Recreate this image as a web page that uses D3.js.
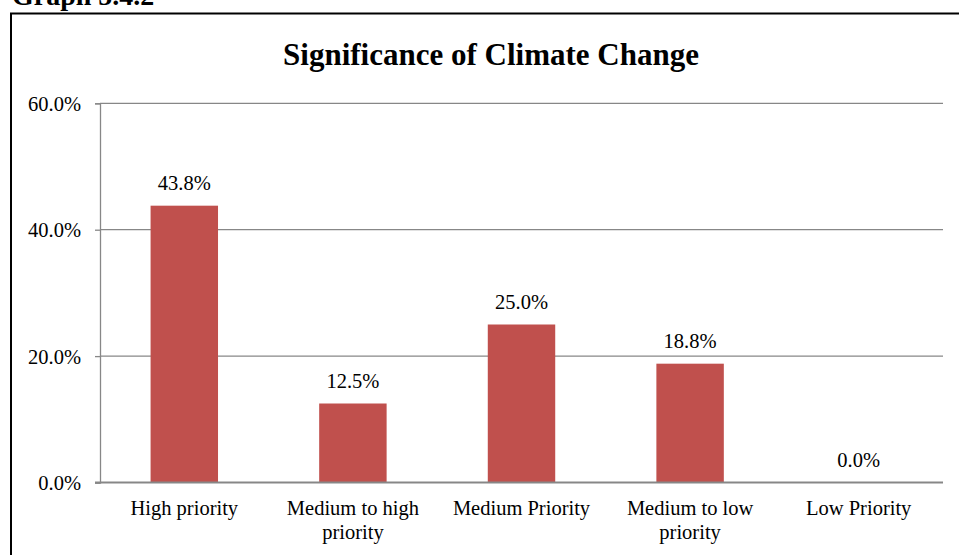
<!DOCTYPE html>
<html>
<head>
<meta charset="utf-8">
<script src="https://cdn.jsdelivr.net/npm/d3@7"></script>
<style>
html,body{margin:0;padding:0;background:#fff;}
svg{display:block;}
text{font-family:"Liberation Serif","Times New Roman",serif;fill:#000;}
</style>
</head>
<body>
<svg id="chart" width="959" height="555"></svg>
<script>
const categories = [["High priority"], ["Medium to high", "priority"], ["Medium Priority"], ["Medium to low", "priority"], ["Low Priority"]];
const values = [43.8, 12.5, 25.0, 18.8, 0.0];
const tickValues = [0, 20, 40, 60];
const title = "Significance of Climate Change";
const caption = "Graph 5.4.2";

const svg = d3.select("#chart");
const W = 959, H = 555;
const margin = {left: 100, right: 16, top: 103.3, bottom: 72};
const plotW = W - margin.left - margin.right;
const y0 = 482.5;

// caption (cut off at top)
svg.append("text").attr("x", 12).attr("y", 5)
  .style("font-size", "28px").style("font-weight", "bold").text(caption);

// frame
svg.append("rect").attr("x", 11).attr("y", 13.5).attr("width", 1000).attr("height", 1000)
  .attr("fill", "none").attr("stroke", "#000").attr("stroke-width", 2);

// title
svg.append("text").attr("x", 491).attr("y", 65).attr("text-anchor", "middle")
  .style("font-size", "31px").style("font-weight", "bold").text(title);

const x = d3.scaleBand().domain(d3.range(values.length))
  .range([margin.left, margin.left + plotW]).paddingInner(0.6).paddingOuter(0.3);
const y = d3.scaleLinear().domain([0, 60]).range([y0, margin.top]);

// gridlines
svg.append("g").selectAll("line").data(tickValues.filter(d => d > 0)).join("line")
  .attr("x1", margin.left).attr("x2", margin.left + plotW)
  .attr("y1", d => y(d)).attr("y2", d => y(d))
  .attr("stroke", "#878787").attr("stroke-width", 1.3);

// y axis
const yAxis = d3.axisLeft(y).tickValues(tickValues).tickSize(5).tickPadding(14)
  .tickFormat(d => d3.format(".1f")(d) + "%");
const gy = svg.append("g").attr("transform", `translate(${margin.left},0)`).call(yAxis);
gy.select(".domain").attr("stroke", "#878787").attr("stroke-width", 1.3);
gy.selectAll(".tick line").attr("stroke", "#878787").attr("stroke-width", 1.3);
gy.selectAll(".tick text").style("font-size", "20.5px")
  .style("font-family", "'Liberation Serif', serif").attr("fill", "#000").attr("dy", "0.34em");

// bars
svg.append("g").selectAll("rect").data(values).join("rect")
  .attr("x", (d, i) => x(i)).attr("width", x.bandwidth())
  .attr("y", d => y(d)).attr("height", d => y0 - y(d))
  .attr("fill", "#C0504D");

// x axis baseline
svg.append("line").attr("x1", margin.left - 5).attr("x2", margin.left + plotW)
  .attr("y1", y0).attr("y2", y0).attr("stroke", "#878787").attr("stroke-width", 1.8);

// value labels
svg.append("g").selectAll("text").data(values).join("text")
  .attr("x", (d, i) => x(i) + x.bandwidth() / 2).attr("y", d => y(d) - 16)
  .attr("text-anchor", "middle").style("font-size", "20.5px")
  .text(d => d3.format(".1f")(d) + "%");

// category labels
const cg = svg.append("g").selectAll("text").data(categories).join("text")
  .attr("x", (d, i) => x(i) + x.bandwidth() / 2).attr("y", 515)
  .attr("text-anchor", "middle").style("font-size", "20.5px");
cg.selectAll("tspan").data(d => d).join("tspan")
  .attr("x", function() { return this.parentNode.getAttribute("x"); })
  .attr("dy", (d, i) => i === 0 ? 0 : 24).text(d => d);
</script>
</body>
</html>
